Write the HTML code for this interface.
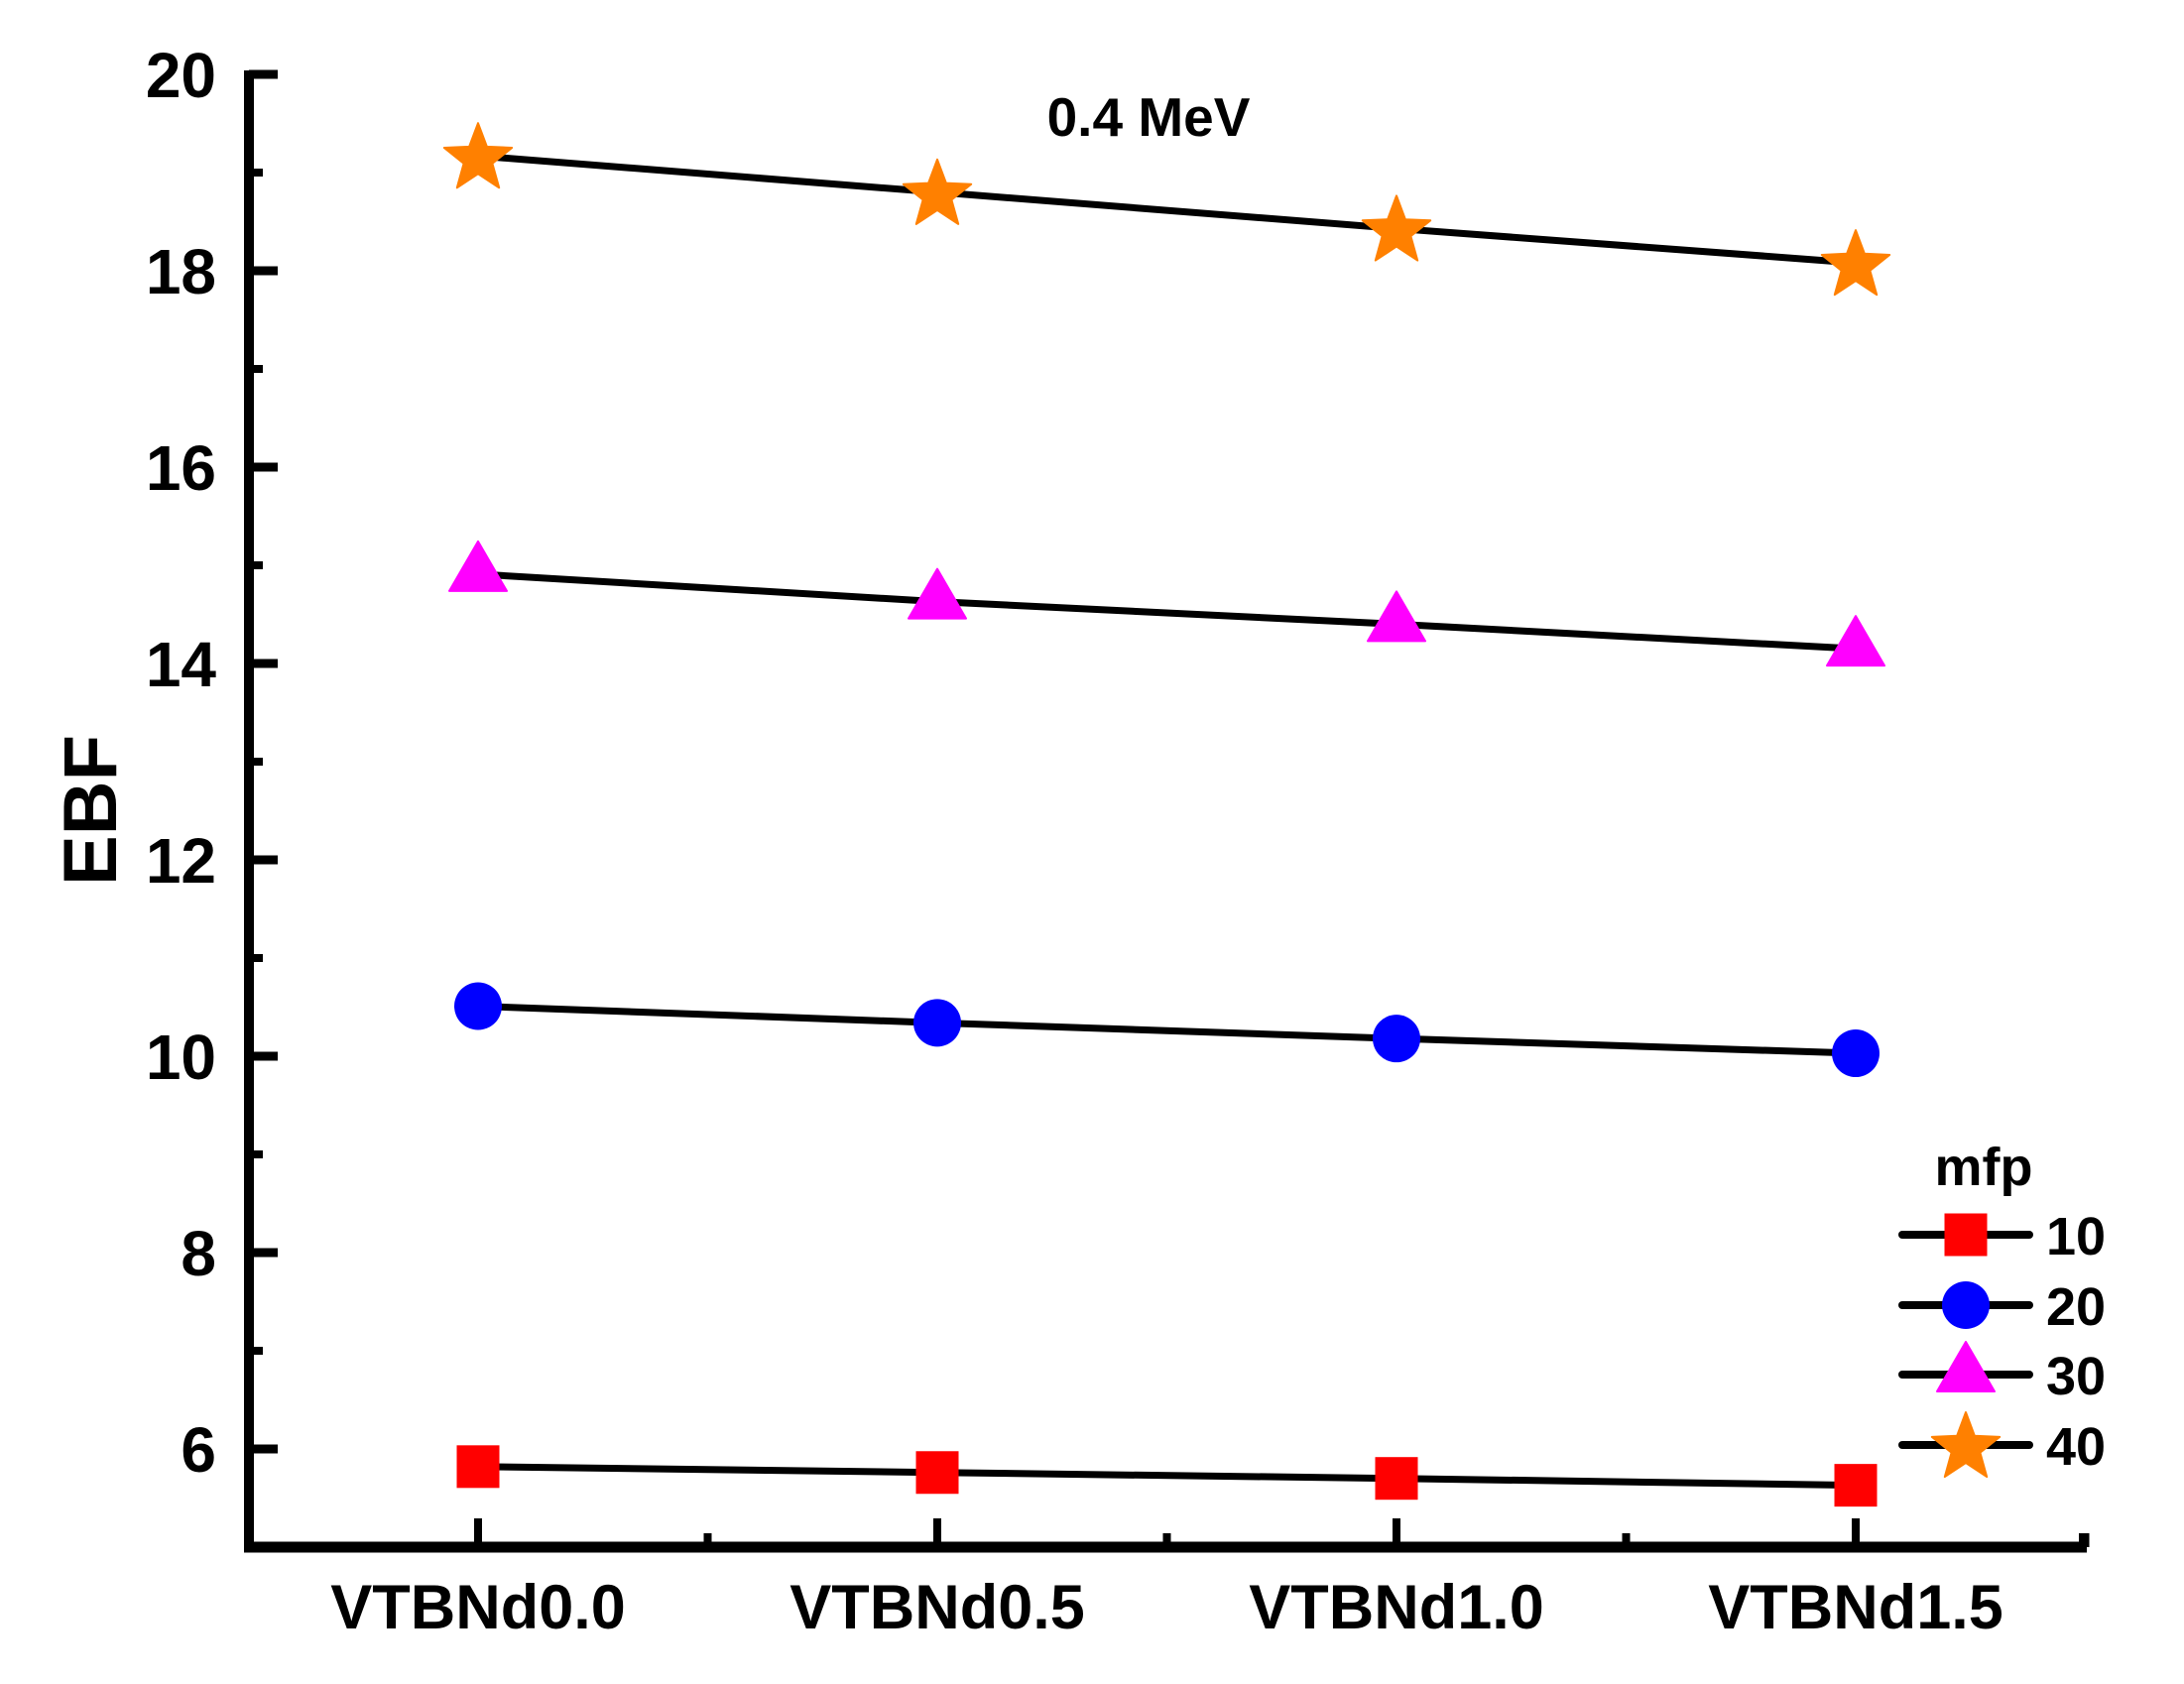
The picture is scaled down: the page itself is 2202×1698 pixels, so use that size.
<!DOCTYPE html>
<html><head><meta charset="utf-8"><style>
html,body{margin:0;padding:0;background:#fff;}
svg{display:block;font-family:"Liberation Sans",Arial,sans-serif;font-weight:bold;}
</style></head><body>
<svg id="chart" width="2202" height="1698" viewBox="0 0 2202 1698" xmlns="http://www.w3.org/2000/svg">
<rect width="2202" height="1698" fill="#fff"/>
<g id="axes"></g><g id="series"></g><g id="legend"></g>
<text x="1158" y="137" font-size="55" text-anchor="middle">0.4 MeV</text>
<text transform="translate(117,817) rotate(-90)" font-size="76" text-anchor="middle">EBF</text>
</svg>
<script>
const categories = ["VTBNd0.0","VTBNd0.5","VTBNd1.0","VTBNd1.5"];
const seriesNames = ["10","20","30","40"];
const mfp10 = [5.82, 5.76, 5.70, 5.63];
const mfp20 = [10.51, 10.34, 10.18, 10.03];
const mfp30 = [14.91, 14.63, 14.40, 14.15];
const mfp40 = [19.17, 18.80, 18.43, 18.08];
const yTicks = [6, 8, 10, 12, 14, 16, 18, 20];
const yMinor = [5, 7, 9, 11, 13, 15, 17, 19];

const NS = "http://www.w3.org/2000/svg";
const X0 = 482, XS = 463;
function xPos(i){ return X0 + XS * i; }
function yPos(v){ return 75 + (20 - v) * 99; }
function mk(tag, attrs, parent){
  const e = document.createElementNS(NS, tag);
  for (const k in attrs) e.setAttribute(k, attrs[k]);
  parent.appendChild(e); return e;
}
const axes = document.getElementById('axes');
const AX = 251, AY = 1560, XR = 2104;
let l = mk('line', {x1:AX, y1:yPos(20)-4, x2:AX, y2:AY+5, stroke:'#000','stroke-width':10}, axes);


l = mk('line', {x1:AX-5, y1:AY, x2:XR, y2:AY, stroke:'#000','stroke-width':11}, axes);


yTicks.forEach(v => {
  const t = mk('line', {x1:AX, y1:yPos(v), x2:AX+29, y2:yPos(v), stroke:'#000','stroke-width':9}, axes);
  
  
  const tx = mk('text', {x:218, y:yPos(v)+23, 'font-size':64, 'text-anchor':'end'}, axes);
  tx.textContent = v;
  
  
});
yMinor.forEach(v => {
  if (v <= 5) return;
  const t = mk('line', {x1:AX, y1:yPos(v), x2:AX+14, y2:yPos(v), stroke:'#000','stroke-width':8}, axes);
  
  
});
categories.forEach((c, i) => {
  const t = mk('line', {x1:xPos(i), y1:AY, x2:xPos(i), y2:AY-29, stroke:'#000','stroke-width':8}, axes);
  
  
  const tx = mk('text', {x:xPos(i), y:1642, 'font-size':63, 'text-anchor':'middle'}, axes);
  tx.textContent = c;
  
  
  const m = mk('line', {x1:xPos(i+0.5), y1:AY, x2:xPos(i+0.5), y2:AY-14, stroke:'#000','stroke-width':8}, axes);
  
  
});
l = mk('line', {x1:XR-4, y1:AY, x2:XR-4, y2:AY-14, stroke:'#000','stroke-width':8}, axes);



function starPts(cx, cy, R){
  const r = R * 0.42; let p = [];
  for (let k = 0; k < 10; k++){
    const a = -Math.PI/2 + k*Math.PI/5, rr = k%2 ? r : R;
    p.push((cx + rr*Math.cos(a)).toFixed(1) + ',' + (cy + rr*Math.sin(a)).toFixed(1));
  }
  return p.join(' ');
}
function marker(type, cx, cy, g){
  if (type === 0) return mk('rect', {x:cx-21.5, y:cy-21.5, width:43, height:43, fill:'#ff0000'}, g);
  if (type === 1) return mk('ellipse', {cx:cx, cy:cy, rx:24, ry:24, fill:'#0000ff'}, g);
  if (type === 2) return mk('polygon', {points:`${cx},${cy-33} ${cx+29},${cy+17} ${cx-29},${cy+17}`, fill:'#ff00ff','stroke':'#ff00ff','stroke-width':2,'stroke-linejoin':'round'}, g);
  return mk('polygon', {points:starPts(cx, cy+3, 36), fill:'#ff8000', stroke:'#ff8000','stroke-width':2,'stroke-linejoin':'round'}, g);
}
const seriesG = document.getElementById('series');
[mfp10, mfp20, mfp30, mfp40].forEach((vals, s) => {
  const g = mk('g', {}, seriesG);
  
  
  const pl = mk('polyline', {points: vals.map((v,i)=>xPos(i)+','+yPos(v)).join(' '), fill:'none', stroke:'#000','stroke-width':7}, g);
  
  
  vals.forEach((v, i) => {
    const m = marker(s, xPos(i), yPos(v), g);
    
    
  });
});
const lg = document.getElementById('legend');


const lt = mk('text', {x:2000, y:1195, 'font-size':54, 'text-anchor':'middle'}, lg);
lt.textContent = 'mfp';


const rows = [1245, 1316, 1386, 1457];
seriesNames.forEach((n, s) => {
  const g = mk('g', {}, lg);
  
  
  mk('line', {x1:1918, y1:rows[s], x2:2046, y2:rows[s], stroke:'#000','stroke-width':8,'stroke-linecap':'round'}, g);
  marker(s, 1982, rows[s], g);
  const t = mk('text', {x:2063, y:rows[s]+20, 'font-size':54}, g);
  t.textContent = n;
});
</script>
</body></html>
